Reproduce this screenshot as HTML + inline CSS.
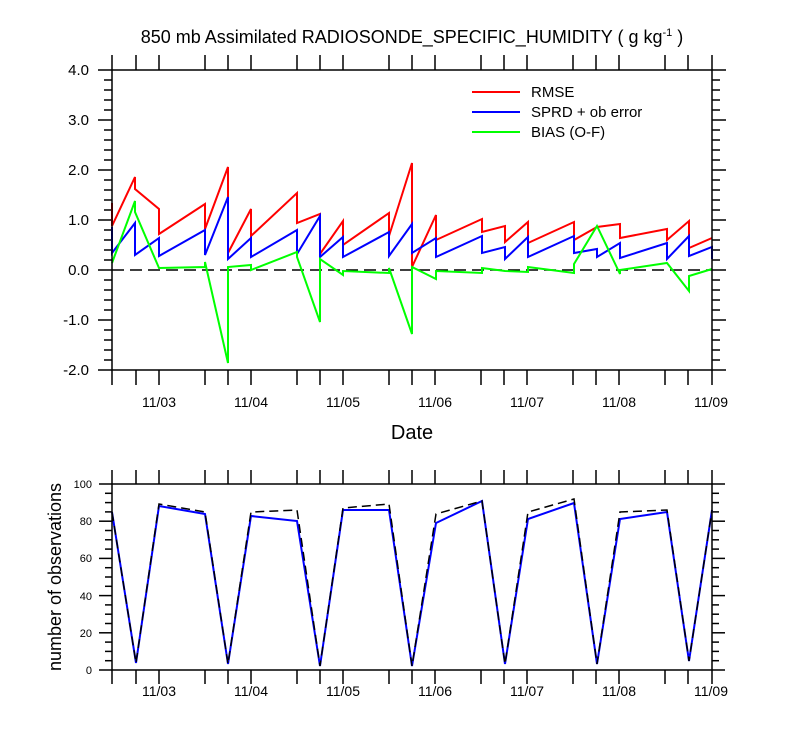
<!DOCTYPE html>
<html><head><meta charset="utf-8"><style>body{margin:0;background:#fff}svg{display:block}</style></head><body>
<svg width="800" height="750" xmlns="http://www.w3.org/2000/svg" font-family="Liberation Sans, Arial, sans-serif">
<rect width="800" height="750" fill="#fff"/>
<text x="412" y="43" text-anchor="middle" font-size="18">850 mb Assimilated RADIOSONDE_SPECIFIC_HUMIDITY ( g kg<tspan dy="-7" font-size="11">-1</tspan><tspan dy="7"> )</tspan></text>
<g id="ticks" stroke="#000" stroke-width="1.5"></g>
<line x1="112" y1="270" x2="712" y2="270" stroke="#000" stroke-width="1.5" stroke-dasharray="12,6"/>
<polyline fill="none" stroke="#ff0000" stroke-width="2" points="112,203 112,226 135,177 135,189 159,209 159,234 205,204 205,229 228,167 228,253 251,209 251,236 297,193 297,223 320,214 320,254 343,221 343,245 389,213 389,236 412,163 412,267 436,215 436,240 482,219 482,232 505,226 505,242 528,222 528,243 574,222 574,240 597,227 620,224 620,238 667,229 667,240 689,221 689,248 712,238"/>
<polyline fill="none" stroke="#0000ff" stroke-width="2" points="112,227 112,253 135,223 135,255 159,238 159,256 205,230 205,255 228,197 228,259 251,238 251,257 297,230 297,254 320,216 320,257 343,237 343,257 389,232 389,256 412,224 412,253 436,238 436,257 482,236 482,253 505,247 505,259 528,237 528,257 574,236 574,253 597,249 597,257 620,243 620,258 667,243 667,259 689,236 689,256 712,247 712,259"/>
<polyline fill="none" stroke="#00ff00" stroke-width="2" points="112,263 135,201 135,212 159,268 205,267 205,262 228,363 228,267 251,265 251,270 297,252 297,257 320,322 320,259 343,275 343,271 389,273 389,268 412,334 412,267 436,279 436,271 482,273 482,268 505,271 528,272 528,267 574,273 574,264 597,226 620,274 620,270 667,263 689,291 689,276 712,269"/>
<rect x="112" y="70" width="600" height="300" fill="none" stroke="#000" stroke-width="1.5"/>
<line x1="472" y1="92" x2="520" y2="92" stroke="#ff0000" stroke-width="2"/>
<line x1="472" y1="112" x2="520" y2="112" stroke="#0000ff" stroke-width="2"/>
<line x1="472" y1="132" x2="520" y2="132" stroke="#00ff00" stroke-width="2"/>
<g font-size="15"><text x="531" y="97">RMSE</text><text x="531" y="117">SPRD + ob error</text><text x="531" y="137">BIAS (O-F)</text></g>
<g font-size="15" text-anchor="end">
<text x="89" y="75">4.0</text><text x="89" y="125">3.0</text><text x="89" y="175">2.0</text><text x="89" y="225">1.0</text><text x="89" y="275">0.0</text><text x="89" y="325">-1.0</text><text x="89" y="375">-2.0</text></g>
<g font-size="14" text-anchor="middle">
<text x="159" y="407">11/03</text><text x="251" y="407">11/04</text><text x="343" y="407">11/05</text><text x="435" y="407">11/06</text><text x="527" y="407">11/07</text><text x="619" y="407">11/08</text><text x="711" y="407">11/09</text>
<text x="159" y="696">11/03</text><text x="251" y="696">11/04</text><text x="343" y="696">11/05</text><text x="435" y="696">11/06</text><text x="527" y="696">11/07</text><text x="619" y="696">11/08</text><text x="711" y="696">11/09</text></g>
<text x="412" y="439" text-anchor="middle" font-size="20">Date</text>
<polyline fill="none" stroke="#0000ff" stroke-width="2" points="112,512 136,663 159,506 205,514 228,664 251,516 297,521 320,666 343,510 389,510 412,666 436,523 482,501 505,664 528,519 574,503 597,664 620,519 667,512 689,661 712,510"/>
<polyline fill="none" stroke="#000" stroke-width="1.5" stroke-dasharray="9,5" points="112,512 136,663 159,504 205,512 228,664 251,512 297,510 320,666 343,508 389,504 412,666 436,514 482,501 505,664 528,512 574,499 597,664 620,512 667,510 689,661 712,510"/>
<rect x="112" y="484" width="600" height="186" fill="none" stroke="#000" stroke-width="1.5"/>
<g font-size="11" text-anchor="end">
<text x="92" y="488">100</text><text x="92" y="525">80</text><text x="92" y="562">60</text><text x="92" y="600">40</text><text x="92" y="637">20</text><text x="92" y="674">0</text></g>
<text transform="translate(61,577) rotate(-90)" text-anchor="middle" font-size="18">number of observations</text>
</svg>
<script>
var g=document.getElementById('ticks'),s='';
function L(a,b,c,d){s+='<line x1="'+a+'" y1="'+b+'" x2="'+c+'" y2="'+d+'"/>';}
var xs=[112,136,159,205,228,251,297,320,343,389,412,435,481,504,527,573,596,619,665,688,712];
xs.forEach(function(x){L(x,55,x,70);L(x,370,x,385);L(x,470,x,484);L(x,670,x,684);});
for(var i=0;i<=30;i++){var y=70+i*10,len=(i%5==0)?14:8;L(112-len,y,112,y);L(712,y,712+len,y);}
for(var i=0;i<=20;i++){var y=484+i*9.3,len=(i%4==0)?13:7;L(112-len,y,112,y);L(712,y,712+len,y);}
g.innerHTML=s;
</script>
</body></html>
